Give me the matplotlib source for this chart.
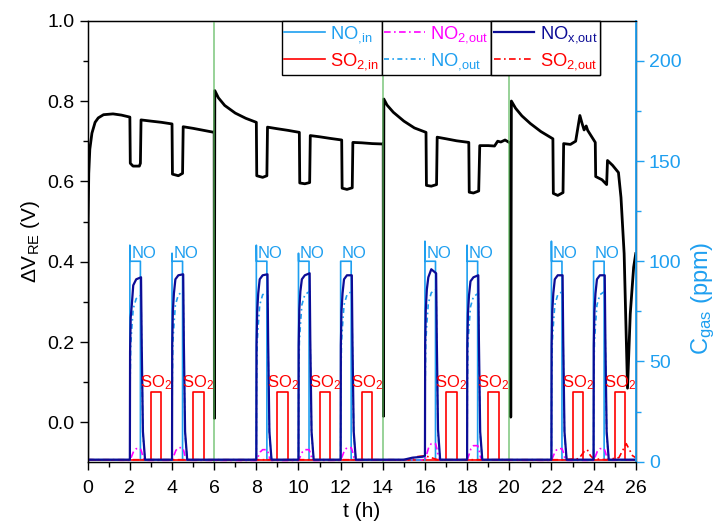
import numpy as np
import matplotlib
matplotlib.use("Agg")
import matplotlib.pyplot as plt
from matplotlib.ticker import MultipleLocator

plt.rcParams['font.family'] = ['Liberation Sans', 'DejaVu Sans']
plt.rcParams['mathtext.fontset'] = 'custom'
plt.rcParams['mathtext.rm'] = 'Liberation Sans'
plt.rcParams['mathtext.it'] = 'Liberation Sans:italic'
plt.rcParams['mathtext.default'] = 'regular'

# sensor voltage (left axis)
dv_t = [0.00, 0.02, 0.05, 0.10, 0.20, 0.35, 0.50, 0.75, 1.20, 1.60, 2.00,
        2.02, 2.15, 2.45, 2.50, 2.53, 3.00, 3.50, 4.00,
        4.02, 4.30, 4.50, 4.53, 5.00, 5.50, 6.00,
        6.01, 6.03, 6.20, 6.50, 7.00, 7.50, 8.00,
        8.02, 8.30, 8.50, 8.53, 9.00, 9.50, 10.04,
        10.06, 10.30, 10.53, 10.56, 11.00, 11.50, 12.05,
        12.07, 12.30, 12.55, 12.58, 13.00, 13.50, 14.02,
        14.03, 14.05, 14.20, 14.50, 15.00, 15.50, 16.05,
        16.07, 16.30, 16.55, 16.58, 17.00, 17.50, 18.08,
        18.10, 18.30, 18.55, 18.60, 19.00, 19.30, 19.45, 19.60, 19.80, 20.06,
        20.07, 20.10, 20.30, 20.60, 21.00, 21.50, 22.07,
        22.09, 22.30, 22.55, 22.58, 22.90, 23.15, 23.35, 23.45, 23.55, 23.65, 23.72, 24.08,
        24.10, 24.40, 24.62, 24.66, 24.90, 25.18, 25.30, 25.45, 25.61, 25.74, 25.90, 26.00]
dv_v = [-0.10, 0.50, 0.62, 0.68, 0.72, 0.747, 0.758, 0.766, 0.768, 0.765, 0.760,
        0.645, 0.638, 0.638, 0.645, 0.753, 0.750, 0.747, 0.743,
        0.618, 0.614, 0.620, 0.736, 0.732, 0.727, 0.722,
        0.010, 0.826, 0.808, 0.789, 0.770, 0.757, 0.747,
        0.614, 0.610, 0.614, 0.735, 0.731, 0.727, 0.722,
        0.596, 0.594, 0.597, 0.714, 0.711, 0.707, 0.703,
        0.583, 0.580, 0.584, 0.697, 0.696, 0.694, 0.693,
        0.015, 0.805, 0.790, 0.772, 0.750, 0.733, 0.722,
        0.590, 0.588, 0.592, 0.710, 0.706, 0.701, 0.697,
        0.573, 0.571, 0.576, 0.689, 0.689, 0.688, 0.700, 0.698, 0.703, 0.695,
        0.013, 0.800, 0.782, 0.763, 0.744, 0.724, 0.706,
        0.570, 0.565, 0.572, 0.694, 0.692, 0.700, 0.764, 0.745, 0.728, 0.738, 0.727, 0.697,
        0.612, 0.604, 0.592, 0.652, 0.640, 0.622, 0.560, 0.420, 0.085, 0.270, 0.386, 0.420]

regen_t = [6, 14, 20]

# gas dosing (right axis)
no_starts = [2, 4, 8, 10, 12, 16, 18, 22, 24]
no_spike = [108, 104, 108, 104, 100, 110, 108, 110, 100]
no_level = 100
so2_starts = [3, 5, 9, 11, 13, 17, 19, 23, 25]
so2_level = 35
pulse_len = 0.5
base = 1.0

# NOx,out response, times relative to NO pulse start
resp_t = [0.00, 0.01, 0.04, 0.09, 0.16, 0.30, 0.53, 0.56, 0.62, 0.72]
nox_out = [
    [1, 55, 72, 78, 88, 91, 92, 60, 15, 1],
    [1, 58, 75, 84, 91, 93, 93.5, 60, 15, 1],
    [1, 58, 75, 84, 91, 93, 93.5, 60, 15, 1],
    [1, 58, 76, 85, 91, 93, 94, 60, 15, 1],
    [1, 58, 75, 84, 91, 93, 93, 60, 15, 1],
    [3, 58, 76, 86, 92, 96, 94, 62, 16, 1],
    [1, 58, 74, 83, 90, 92, 93, 60, 15, 1],
    [1, 58, 75, 84, 91, 93, 93, 60, 15, 1],
    [1, 58, 75, 84, 91, 93, 93, 60, 15, 1],
]
no_out_peak = [83, 85, 85, 85, 85, 86, 84, 85, 85]
no_out_shape = [0.01, 0.45, 0.7, 0.8, 0.92, 0.98, 1.0, 0.65, 0.16, 0.01]
no2_t = [0.00, 0.08, 0.18, 0.30, 0.50, 0.56, 0.63, 0.72]
no2_shape = [0.1, 0.4, 0.8, 1.0, 1.0, 0.75, 0.3, 0.1]
no2_peak = [6.5, 7, 6, 6, 7, 9, 8, 6.5, 6.5]
nox_pre_t = [15.0, 15.4, 15.9]
nox_pre_v = [1.0, 2.0, 2.5]
so2_out_t = [0, 15.2, 15.6, 16.0, 16.3, 16.6, 22.5, 23.3, 23.55, 23.7, 23.85,
             24.0, 24.6, 25.2, 25.45, 25.55, 25.7, 25.85, 26]
so2_out_v = [1, 1, 2.5, 3, 2, 1, 1, 1.5, 5, 6, 3, 1.5, 1, 2, 7, 9, 6, 3, 2]

c_lb = '#1e9ff0'
c_navy = '#0c0c96'
c_mag = '#ff00ff'
c_red = '#ff0000'
c_green = '#5cb85c'


def square(starts, level, spikes=None):
    t, v = [0.0], [base]
    for i, s in enumerate(starts):
        top = level if spikes is None else spikes[i]
        t += [s, s, s + 0.005, s + pulse_len, s + pulse_len]
        v += [base, top, level, level, base]
    t.append(26.0)
    v.append(base)
    return t, v


def response(vals_list, rel_t):
    t, v = [0.0], [base]
    for s, vals in zip(no_starts, vals_list):
        t += [s + r for r in rel_t]
        v += list(vals)
    t.append(26.0)
    v.append(base)
    return np.array(t), np.array(v)


no_in_t, no_in_v = square(no_starts, no_level, no_spike)
so2_in_t, so2_in_v = square(so2_starts, so2_level)
nox_t, nox_v = response(nox_out, resp_t)
nox_t = np.concatenate([nox_t, nox_pre_t])
nox_v = np.concatenate([nox_v, nox_pre_v])
order = np.argsort(nox_t, kind='stable')
nox_t, nox_v = nox_t[order], nox_v[order]
no_t, no_v = response([[p * f for f in no_out_shape] for p in no_out_peak], resp_t)
no2_t_all, no2_v_all = response([[p * f for f in no2_shape] for p in no2_peak], no2_t)

fig = plt.figure(figsize=(7.16, 5.27), dpi=100)
ax = fig.add_axes([0.1225, 0.1239, 0.7654, 0.8368])
ax2 = ax.twinx()

ax.plot(dv_t, dv_v, color='black', lw=2.0, zorder=2)
for t in regen_t:
    ax.axvline(t, color=c_green, lw=1.1, alpha=0.8, zorder=3)

ax.set_xlim(0, 26)
ax.set_ylim(-0.098, 1.0)
ax.xaxis.set_major_locator(MultipleLocator(2))
ax.xaxis.set_minor_locator(MultipleLocator(1))
ax.yaxis.set_major_locator(MultipleLocator(0.2))
ax.yaxis.set_minor_locator(MultipleLocator(0.1))
ax.tick_params(which='both', direction='out', labelsize=14, width=1.0)
ax.tick_params(which='major', length=6)
ax.tick_params(which='minor', length=3.5)
ax.tick_params(axis='x', which='major', pad=7)
ax.set_xlabel('t (h)', fontsize=15, labelpad=4)
ax.set_ylabel('ΔV$_{RE}$ (V)', fontsize=15, labelpad=4)
for sp in ax.spines.values():
    sp.set_linewidth(1.0)

l_noin, = ax2.plot(no_in_t, no_in_v, color=c_lb, lw=1.2, label='$NO_{{,}in}$')
l_so2in, = ax2.plot(so2_in_t, so2_in_v, color=c_red, lw=1.2, label='$SO_{2{,}in}$')
l_no2, = ax2.plot(no2_t_all, no2_v_all, color=c_mag, lw=1.2, dashes=(4, 2, 1, 2), label='$NO_{2{,}out}$')
l_no, = ax2.plot(no_t, no_v, color=c_lb, lw=1.2, dashes=(3, 2, 1, 2), label='$NO_{{,}out}$')
l_so2out, = ax2.plot(so2_out_t, so2_out_v, color=c_red, lw=1.2, dashes=(4, 2, 1, 2), label='$SO_{2{,}out}$')
l_nox, = ax2.plot(nox_t, nox_v, color=c_navy, lw=1.6, label='$NO_{x{,}out}$')

for s in no_starts:
    ax2.text(s + 0.07, 101.5, 'NO', color=c_lb, fontsize=12, ha='left', va='baseline')
for s in so2_starts:
    ax2.text(s + 0.25, 37, 'SO$_2$', color=c_red, fontsize=12, ha='center', va='baseline')

ax2.set_ylim(0, 220)
ax2.yaxis.set_major_locator(MultipleLocator(50))
ax2.yaxis.set_minor_locator(MultipleLocator(25))
ax2.tick_params(axis='y', which='both', direction='out', colors=c_lb, labelsize=14, width=1.0)
ax2.tick_params(which='major', length=6)
ax2.tick_params(which='minor', length=3.5)
ax2.spines['right'].set_color(c_lb)
ax2.spines['right'].set_linewidth(1.3)
ax2.set_ylabel('C$_{gas}$ (ppm)', fontsize=17, color=c_lb)
ax2.yaxis.set_label_coords(1.098, 0.37)

groups = [[l_noin, l_so2in], [l_no2, l_no], [l_nox, l_so2out]]
x0 = 281.7 / 716
y0 = 1 - 21.0 / 527
for hs in groups:
    leg = ax2.legend(handles=hs, loc='upper left', bbox_to_anchor=(x0, y0),
                     bbox_transform=fig.transFigure, fancybox=False, edgecolor='black',
                     framealpha=1, fontsize=13.2, handlelength=2.2, handletextpad=0.3,
                     borderpad=0.15, labelspacing=0.35, borderaxespad=0,
                     labelcolor='linecolor')
    leg.get_frame().set_linewidth(1.0)
    ax2.add_artist(leg)
    fig.canvas.draw()
    bb = leg.get_window_extent()
    x0 = bb.x1 / fig.bbox.width

fig.savefig('out.png', dpi=100)
